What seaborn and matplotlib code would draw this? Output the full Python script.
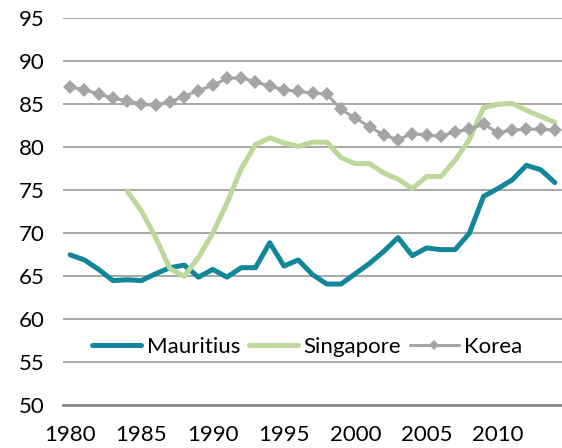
import numpy as np
import pandas as pd
import seaborn as sns
from matplotlib import pyplot as plt
from matplotlib.ticker import MultipleLocator

years = list(range(1980, 2015))

mauritius = [67.5, 66.9, 65.8, 64.5, 64.6, 64.5, 65.3, 66.0, 66.3, 64.9,
             65.8, 64.9, 66.0, 66.0, 68.9, 66.2, 66.9, 65.2, 64.1, 64.1,
             65.3, 66.5, 67.9, 69.5, 67.4, 68.3, 68.1, 68.1, 70.0, 74.3,
             75.2, 76.2, 77.9, 77.4, 75.9]

singapore = [np.nan, np.nan, np.nan, np.nan, 74.9, 72.6, 69.5, 65.9, 65.0, 67.2,
             70.0, 73.5, 77.5, 80.3, 81.1, 80.5, 80.1, 80.6, 80.6, 78.8,
             78.1, 78.1, 77.0, 76.3, 75.2, 76.6, 76.6, 78.5, 80.9, 84.6,
             85.0, 85.1, 84.3, 83.6, 82.9]

korea = [87.0, 86.7, 86.2, 85.7, 85.4, 85.0, 84.9, 85.3, 85.9, 86.6,
         87.2, 88.0, 88.1, 87.6, 87.1, 86.7, 86.5, 86.3, 86.2, 84.4,
         83.4, 82.4, 81.4, 80.9, 81.6, 81.4, 81.3, 81.8, 82.1, 82.7,
         81.7, 82.0, 82.1, 82.1, 82.0]

df = pd.DataFrame({'year': years, 'Mauritius': mauritius,
                   'Singapore': singapore, 'Korea': korea})

sns.set_style('white')
plt.rcParams['font.family'] = ['Lato', 'DejaVu Sans']
plt.rcParams['text.color'] = 'black'
plt.rcParams['xtick.color'] = 'black'
plt.rcParams['ytick.color'] = 'black'

fig = plt.figure(figsize=(5.62, 4.48), dpi=100)
ax = fig.add_axes([63 / 562, 42.7 / 448, 499 / 562, 387 / 448])

sns.lineplot(data=df, x='year', y='Mauritius', ax=ax, color='#12879A',
             linewidth=3.6, label='Mauritius', solid_capstyle='round')
sns.lineplot(data=df, x='year', y='Singapore', ax=ax, color='#BCD89A',
             linewidth=3.6, label='Singapore', solid_capstyle='round')
sns.lineplot(data=df, x='year', y='Korea', ax=ax, color='#A5A5A5',
             linewidth=2.2, marker='D', markersize=7, markeredgewidth=0,
             label='Korea')

ax.set_xlim(1979.5, 1979.5 + 499 / 14.4)
ax.set_ylim(50, 95)
ax.yaxis.set_major_locator(MultipleLocator(5))
ax.set_xticks(range(1980, 2015, 5))
ax.set_xticks(np.arange(1979.5, 2015, 5), minor=True)
ax.tick_params(axis='x', which='major', length=0, labelsize=16, pad=14)
ax.tick_params(axis='x', which='minor', length=5, width=1.5, direction='in',
               color='#8C8C8C')
ax.tick_params(axis='y', length=0, labelsize=16, pad=13)
ax.set_xlabel('')
ax.set_ylabel('')

ax.grid(axis='y', color='#A0A0A0', linewidth=1.3)
ax.set_axisbelow(True)
for side in ['top', 'right', 'left']:
    ax.spines[side].set_visible(False)
ax.spines['bottom'].set_color('#8C8C8C')
ax.spines['bottom'].set_linewidth(2)

leg = ax.legend(loc='center', bbox_to_anchor=(0.49, 0.151), ncol=3,
                frameon=False, fontsize=16, handlelength=2.2,
                columnspacing=0.4, handletextpad=0.25, markerscale=0.7)

fig.savefig('out.png', dpi=100)
